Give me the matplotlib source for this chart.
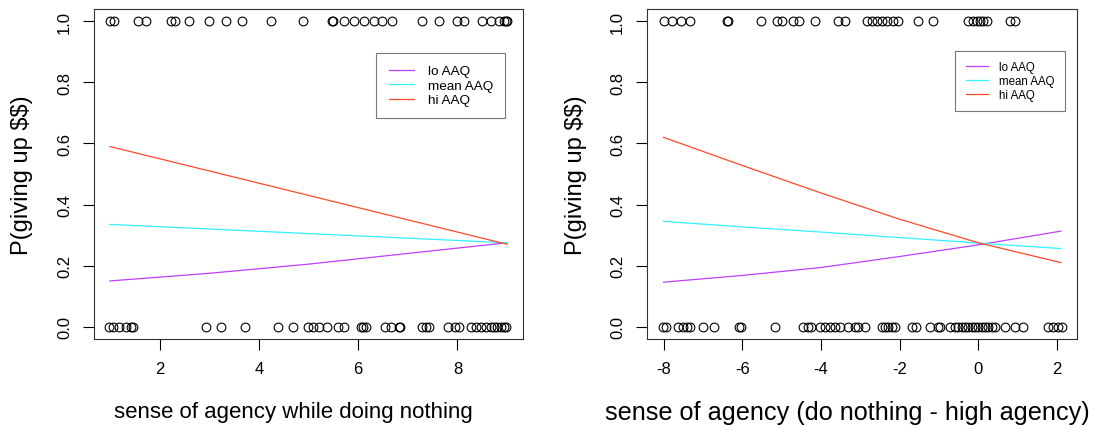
import numpy as np
import matplotlib.pyplot as plt

plt.rcParams['font.family'] = ['Liberation Sans', 'DejaVu Sans']
plt.rcParams['axes.unicode_minus'] = False

# left panel: sense of agency while doing nothing
left_top = [1.0, 1.09, 1.56, 1.73, 2.23, 2.32, 2.60, 2.99, 3.34, 3.66, 4.24, 4.88,
            5.48, 5.50, 5.72, 5.92, 6.12, 6.32, 6.49, 6.69, 7.29, 7.62, 8.0, 8.13,
            8.50, 8.67, 8.84, 8.94, 8.97, 9.0]
left_bot = [0.99, 1.07, 1.18, 1.33, 1.43, 1.46, 2.94, 3.24, 3.73, 4.38, 4.69, 4.98,
            5.09, 5.22, 5.38, 5.60, 5.72, 6.05, 6.10, 6.15, 6.54, 6.66, 6.82, 6.85,
            7.29, 7.36, 7.43, 7.80, 7.95, 8.03, 8.27, 8.37, 8.47, 8.57, 8.67, 8.74,
            8.80, 8.87, 8.94, 8.98]
left_x = [1, 3, 5, 7, 9]
left_lo = [0.15, 0.175, 0.205, 0.24, 0.275]
left_mean = [0.335, 0.32, 0.305, 0.29, 0.275]
left_hi = [0.59, 0.51, 0.43, 0.35, 0.27]

# right panel: do nothing - high agency
right_top = [-8.0, -7.79, -7.56, -7.33, -6.38, -6.36, -5.51, -5.12, -5.0, -4.70,
             -4.55, -4.15, -3.56, -3.39, -2.84, -2.71, -2.58, -2.45, -2.33, -2.16,
             -2.03, -1.52, -1.14, -0.25, -0.13, -0.04, 0.04, 0.13, 0.21, 0.81, 0.93]
right_bot = [-8.02, -7.94, -7.62, -7.51, -7.41, -7.33, -6.99, -6.72, -6.08, -6.04,
             -5.17, -4.45, -4.32, -4.26, -4.02, -3.90, -3.77, -3.64, -3.51, -3.30,
             -3.13, -3.05, -2.88, -2.45, -2.37, -2.29, -2.20, -2.12, -1.69, -1.57,
             -1.23, -1.02, -0.97, -0.72, -0.59, -0.51, -0.42, -0.34, -0.25, -0.17,
             -0.08, 0.0, 0.09, 0.17, 0.25, 0.34, 0.42, 0.68, 0.93, 1.14, 1.78,
             1.91, 2.03, 2.14]
right_x = [-8, -6, -4, -2, 0, 2.1]
right_lo = [0.146, 0.168, 0.194, 0.23, 0.268, 0.313]
right_mean = [0.345, 0.327, 0.31, 0.292, 0.274, 0.256]
right_hi = [0.62, 0.528, 0.438, 0.352, 0.275, 0.21]

c_lo, c_mean, c_hi = '#bf3eff', '#33f0ff', '#ff4a2a'

fig = plt.figure(figsize=(10.96, 4.27), dpi=100)
ax1 = fig.add_axes([94/1096, 87/427, 429/1096, 330/427])
ax2 = fig.add_axes([647/1096, 87/427, 430/1096, 330/427])

# ax, points, lines, xlabel, xlim, xticks, legend anchor, ylabel x, xlabel size/x, legend size
panels = [
    (ax1, left_top, left_bot, left_x, left_lo, left_mean, left_hi,
     'sense of agency while doing nothing', (0.68, 9.32), [2, 4, 6, 8],
     (0.958, 0.867), -0.168, 16, 0.465, 9.7),
    (ax2, right_top, right_bot, right_x, right_lo, right_mean, right_hi,
     'sense of agency (do nothing - high agency)', (-8.42, 2.51), [-8, -6, -4, -2, 0, 2],
     (0.972, 0.873), -0.165, 18.2, 0.467, 8.3),
]

for ax, top, bot, lx, lo, mean, hi, xlab, xlim, xt, leg, ylx, xfs, xlx, lfs in panels:
    ax.plot(top, np.ones(len(top)), 'o', mfc='none', mec='black', ms=6.3, mew=0.8)
    ax.plot(bot, np.zeros(len(bot)), 'o', mfc='none', mec='black', ms=6.3, mew=0.8)
    ax.plot(lx, lo, color=c_lo, lw=0.9, label='lo AAQ')
    ax.plot(lx, mean, color=c_mean, lw=0.9, label='mean AAQ')
    ax.plot(lx, hi, color=c_hi, lw=0.9, label='hi AAQ')
    ax.set_xlim(*xlim)
    ax.set_ylim(-0.04, 1.04)
    ax.set_xticks(xt)
    ax.set_yticks([0, 0.2, 0.4, 0.6, 0.8, 1.0])
    ax.set_yticklabels(['0.0', '0.2', '0.4', '0.6', '0.8', '1.0'], rotation=90, va='center')
    ax.tick_params(length=7.8, width=0.8, labelsize=12, pad=8)
    for s in ax.spines.values():
        s.set_linewidth(0.8)
        s.set_color('#333333')
    ax.set_xlabel(xlab, fontsize=xfs)
    ax.set_ylabel(r'P(giving up \$\$)', fontsize=17)
    ax.xaxis.label.set_va('center')
    ax.yaxis.label.set_va('center')
    ax.xaxis.set_label_coords(xlx, -0.22)
    ax.yaxis.set_label_coords(ylx, 0.5)
    lg = ax.legend(loc='upper right', bbox_to_anchor=leg, fontsize=lfs, frameon=True,
                   fancybox=False, edgecolor='#555555', handlelength=1.9,
                   borderpad=0.9, labelspacing=0.15, handletextpad=1.0,
                   borderaxespad=0)
    lg.get_frame().set_linewidth(0.8)

fig.savefig('out.png', dpi=100)
